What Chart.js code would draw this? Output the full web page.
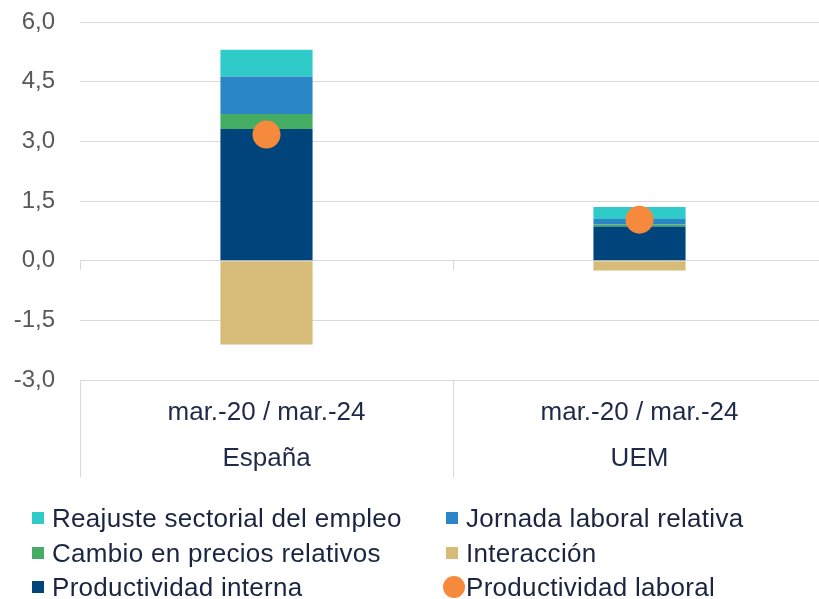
<!DOCTYPE html>
<html>
<head>
<meta charset="utf-8">
<script src="https://cdn.jsdelivr.net/npm/chart.js@4"></script>
<style>
	html, body { margin: 0; padding: 0; background: #fff; overflow: hidden; }
	#wrap { position: relative; width: 819px; height: 599px; overflow: hidden; }
	#chart { position: absolute; left: 0; top: 0; }
	#legend { position: absolute; left: 0; top: 0; width: 819px; height: 599px;
		font-family: "Liberation Sans", Arial, sans-serif; font-size: 26px; letter-spacing: 0.3px; color: #1b2541; }
	#legend .item { position: absolute; white-space: nowrap; display: flex; align-items: center; height: 30px; }
	#legend .sw { display: inline-block; width: 12px; height: 12px; margin-right: 8px; }
	#legend .dot { display: inline-block; width: 22px; height: 22px; border-radius: 50%; margin-right: 1px; }
</style>
</head>
<body>
<div id="wrap">
	<canvas id="chart" width="827" height="500"></canvas>
	<div id="legend"></div>
</div>
<script>
	'use strict';

	// Data
	var categories = [ [ 'mar.-20 / mar.-24', 'España' ], [ 'mar.-20 / mar.-24', 'UEM' ] ];
	var productividadInterna = [ 3.31, 0.86 ];
	var cambioPrecios = [ 0.38, 0.05 ];
	var jornadaLaboral = [ 0.94, 0.14 ];
	var reajusteSectorial = [ 0.67, 0.30 ];
	var interaccion = [ -2.11, -0.25 ];
	var productividadLaboral = [ 3.17, 1.03 ];
	var yTicks = [ -3.0, -1.5, 0.0, 1.5, 3.0, 4.5, 6.0 ];

	var FONT = '"Liberation Sans", Arial, sans-serif';
	var GRID = '#d9d9d9';

	// small tick marks on the zero line between categories
	var zeroTicks = {
		id: 'zeroTicks',
		afterDatasetsDraw: function( chart ) {
			var x = chart.scales.x, y = chart.scales.y;
			var ctx = chart.ctx;
			var y0 = Math.round( y.getPixelForValue( 0 ) );
			var half = ( x.getPixelForValue( 1 ) - x.getPixelForValue( 0 ) ) / 2;
			ctx.save();
			ctx.strokeStyle = GRID;
			ctx.lineWidth = 1;
			for ( var i = 0; i <= categories.length; i++ ) {
				var px = Math.round( x.getPixelForValue( 0 ) - half + i * half * 2 ) + 0.5;
				ctx.beginPath();
				ctx.moveTo( px, y0 );
				ctx.lineTo( px, y0 + 9 );
				ctx.stroke();
			}
			ctx.restore();
		}
	};

	var chart = new Chart( document.getElementById( 'chart' ), {
		data: {
			labels: categories,
			datasets: [
				{
					type: 'line',
					label: 'Productividad laboral',
					data: productividadLaboral,
					showLine: false,
					pointRadius: 14,
					pointHoverRadius: 14,
					pointBackgroundColor: '#f68a3c',
					pointBorderWidth: 0,
					backgroundColor: '#f68a3c',
					stack: 'dot',
					order: 0
				},
				{ type: 'bar', label: 'Productividad interna', data: productividadInterna, backgroundColor: '#00447c', stack: 's', order: 1 },
				{ type: 'bar', label: 'Cambio en precios relativos', data: cambioPrecios, backgroundColor: '#45ac63', stack: 's', order: 1 },
				{ type: 'bar', label: 'Jornada laboral relativa', data: jornadaLaboral, backgroundColor: '#2b86c8', stack: 's', order: 1 },
				{ type: 'bar', label: 'Reajuste sectorial del empleo', data: reajusteSectorial, backgroundColor: '#2ecbc9', stack: 's', order: 1 },
				{ type: 'bar', label: 'Interacción', data: interaccion, backgroundColor: '#d6bc78', stack: 's', order: 1 }
			]
		},
		options: {
			responsive: false,
			animation: false,
			layout: { autoPadding: false, padding: { top: 22, left: 0, right: 1, bottom: 0 } },
			datasets: {
				bar: { categoryPercentage: 1, barPercentage: 0.247, borderWidth: 0 }
			},
			plugins: {
				legend: { display: false },
				tooltip: { enabled: false }
			},
			scales: {
				x: {
					stacked: true,
					offset: true,
					afterFit: function( axis ) {
						axis.height = 120;
						axis.paddingLeft = 0;
						axis.paddingRight = 0;
					},
					grid: {
						offset: true,
						drawOnChartArea: false,
						drawTicks: true,
						tickLength: 97,
						color: GRID
					},
					border: { display: false },
					ticks: {
						padding: -87,
						color: '#1f2a48',
						font: { family: FONT, size: 26, lineHeight: 1.77 },
						maxRotation: 0
					}
				},
				y: {
					stacked: true,
					min: -3,
					max: 6,
					afterBuildTicks: function( axis ) {
						axis.ticks = yTicks.map( function( v ) { return { value: v }; } );
					},
					afterFit: function( axis ) {
						axis.width = 80;
						axis.paddingTop = 0;
						axis.paddingBottom = 0;
					},
					grid: { color: GRID, drawTicks: false },
					border: { display: false },
					ticks: {
						padding: 25,
						color: '#595959',
						font: { family: FONT, size: 24 },
						callback: function( v ) { return Number( v ).toFixed( 1 ).replace( '.', ',' ); }
					}
				}
			}
		},
		plugins: [ zeroTicks ]
	} );

	// HTML legend, two columns like the original
	var legendOrder = [
		'Reajuste sectorial del empleo', 'Jornada laboral relativa',
		'Cambio en precios relativos', 'Interacción',
		'Productividad interna', 'Productividad laboral'
	];
	var rowCenters = [ 518, 553, 587 ];
	var $legend = document.getElementById( 'legend' );
	legendOrder.forEach( function( name, i ) {
		var ds = chart.data.datasets.filter( function( d ) { return d.label === name; } )[0];
		var isDot = ds.type === 'line';
		var item = document.createElement( 'div' );
		item.className = 'item';
		item.style.left = ( i % 2 === 0 ? 32 : ( isDot ? 443 : 446 ) ) + 'px';
		item.style.top = ( rowCenters[ Math.floor( i / 2 ) ] - 15 ) + 'px';
		var sw = document.createElement( 'span' );
		sw.className = isDot ? 'dot' : 'sw';
		sw.style.background = isDot ? ds.pointBackgroundColor : ds.backgroundColor;
		item.appendChild( sw );
		item.appendChild( document.createTextNode( name ) );
		$legend.appendChild( item );
	} );
</script>
</body>
</html>
